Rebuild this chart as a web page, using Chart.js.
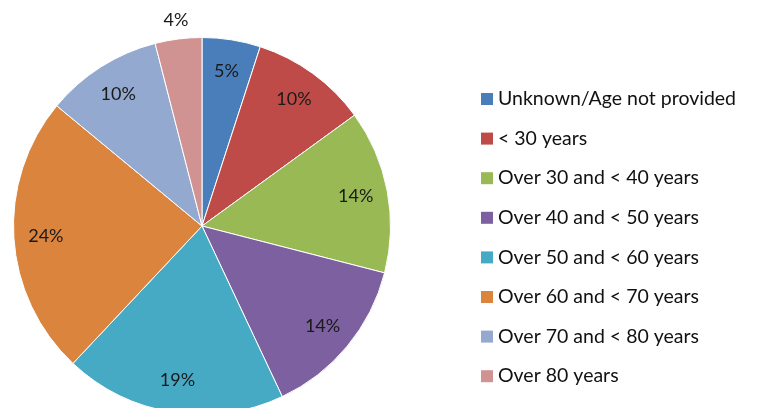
<!DOCTYPE html>
<html>
<head>
<meta charset="utf-8">
<script src="https://cdn.jsdelivr.net/npm/chart.js@4/dist/chart.umd.min.js"></script>
<style>
    html, body { margin: 0; padding: 0; background: #fff; overflow: hidden; }
    #wrap { position: relative; width: 759px; height: 430px; }
</style>
</head>
<body>
<div id="wrap"><canvas id="pie" width="759" height="430"></canvas></div>
<script>
const ageGroups = [
    'Unknown/Age not provided',
    '< 30 years',
    'Over 30 and < 40 years',
    'Over 40 and < 50 years',
    'Over 50 and < 60 years',
    'Over 60 and < 70 years',
    'Over 70 and < 80 years',
    'Over 80 years'
];
const shares = [5, 10, 14, 14, 19, 24, 10, 4];
const sliceColors = ['#4A7EBB', '#BE4B48', '#98B954', '#7D60A0', '#46AAC5', '#DB843D', '#93A9CF', '#D19392'];

const FONT = 'Lato, "Open Sans", sans-serif';

// percentage labels, drawn inside the slice (small ones go outside)
const sliceLabels = {
    id: 'sliceLabels',
    afterDatasetsDraw(chart) {
        const ctx = chart.ctx;
        const arcs = chart.getDatasetMeta(0).data;
        ctx.save();
        ctx.font = '18px ' + FONT;
        ctx.fillStyle = '#1a1a1a';
        ctx.textAlign = 'center';
        ctx.textBaseline = 'middle';
        arcs.forEach((arc, i) => {
            const mid = (arc.startAngle + arc.endAngle) / 2;
            const f = shares[i] < 5 ? 1.1 : 0.83;
            const r = arc.outerRadius * f;
            ctx.fillText(shares[i] + '%', arc.x + Math.cos(mid) * r, arc.y + Math.sin(mid) * r);
        });
        ctx.restore();
    }
};

// legend on the right side
const sideLegend = {
    id: 'sideLegend',
    afterDraw(chart) {
        const ctx = chart.ctx;
        ctx.save();
        ctx.font = '19.5px ' + FONT;
        ctx.textBaseline = 'middle';
        ctx.textAlign = 'left';
        chart.data.labels.forEach((lbl, i) => {
            const y = 99 + i * 39.6;
            ctx.fillStyle = sliceColors[i];
            ctx.fillRect(481, y - 6, 12, 12);
            ctx.fillStyle = '#111';
            ctx.fillText(lbl, 498, y);
        });
        ctx.restore();
    }
};

new Chart(document.getElementById('pie'), {
    type: 'pie',
    data: {
        labels: ageGroups,
        datasets: [{
            data: shares,
            backgroundColor: sliceColors,
            borderColor: '#ffffff',
            borderWidth: 1
        }]
    },
    options: {
        responsive: false,
        animation: false,
        layout: { padding: { left: 13, right: 368, top: 37, bottom: 15 } },
        plugins: {
            legend: { display: false },
            tooltip: { enabled: false }
        }
    },
    plugins: [sliceLabels, sideLegend]
});
</script>
</body>
</html>
